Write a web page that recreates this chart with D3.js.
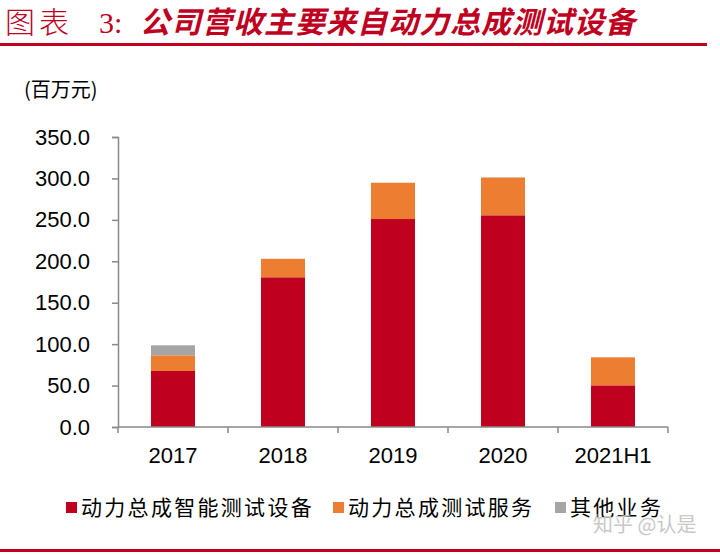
<!DOCTYPE html>
<html><head><meta charset="utf-8">
<script src="https://cdn.jsdelivr.net/npm/d3@7"></script>
<style>body{margin:0;background:#fff}</style>
</head><body><svg id="c" width="720" height="555"></svg>
<script>
const categories = ["2017","2018","2019","2020","2021H1"];
const seriesNames = ["动力总成智能测试设备","动力总成测试服务","其他业务"];
const equipment = [67.6, 180.7, 251.0, 255.5, 50.3];
const service = [18.9, 22.3, 43.8, 45.5, 33.8];
const other = [12.1, 0, 0, 0.4, 0];
const yTicks = [0,50,100,150,200,250,300,350];
const colors = ["#C0001F","#ED7D31","#A5A5A5"];

const svg = d3.select("#c");
const cjk = "'Noto Sans CJK SC', sans-serif";
const latin = "'Liberation Sans', Arial, sans-serif";

// header
const t0 = svg.append("text").attr("x",5).attr("y",33).attr("fill","#C0001F")
  .attr("font-family","'Liberation Serif','Noto Sans CJK SC', serif").attr("font-size",30)
  .attr("font-weight",300);
t0.append("tspan").attr("letter-spacing",4).text("图表");
t0.append("tspan").attr("x",99).text("3:");
svg.append("text").attr("x",140).attr("y",33).attr("fill","#C0001F")
  .attr("font-family",cjk).attr("font-size",30).attr("font-weight","bold").attr("font-style","italic")
  .attr("letter-spacing",1).text("公司营收主要来自动力总成测试设备");
svg.append("rect").attr("x",0).attr("y",43).attr("width",707).attr("height",3).attr("fill","#C0001F");
svg.append("rect").attr("x",0).attr("y",549).attr("width",720).attr("height",3).attr("fill","#C0001F");

const x = d3.scaleBand().domain(categories).range([118,668]).paddingInner(0.6).paddingOuter(0.3);
const y = d3.scaleLinear().domain([0,350]).range([427,137]);

const data = categories.map((c,i)=>({cat:c, s0:equipment[i], s1:service[i], s2:other[i]}));
const stack = d3.stack().keys(["s0","s1","s2"])(data);

svg.append("g").selectAll("g").data(stack).join("g").attr("fill",(d,i)=>colors[i])
  .selectAll("rect").data(d=>d).join("rect")
  .attr("x",d=>x(d.data.cat)).attr("width",x.bandwidth())
  .attr("y",d=>y(d[1])).attr("height",d=>y(d[0])-y(d[1]));

// axes
const yAxis = svg.append("g").attr("transform","translate(118,0)")
  .call(d3.axisLeft(y).tickValues(yTicks).tickFormat(d3.format(".1f")).tickSize(6).tickPadding(22));
const xb = d3.scaleBand().domain(categories).range([118,668]);
const xAxis = svg.append("g").attr("transform","translate(0,427)")
  .call(d3.axisBottom(xb).tickSize(0).tickPadding(20));
// boundary ticks
svg.append("g").selectAll("line").data(d3.range(categories.length+1)).join("line")
  .attr("x1",i=>118+i*xb.step()).attr("x2",i=>118+i*xb.step())
  .attr("y1",427).attr("y2",433).attr("stroke","#898989").attr("stroke-width",1.5);
[yAxis,xAxis].forEach(a=>{
  a.selectAll("path,line").attr("stroke","#898989").attr("stroke-width",1.5);
  a.selectAll("text").attr("font-family",latin).attr("font-size",22).attr("fill","#000");
});
xAxis.select(".domain").attr("d","M118,0H668");

svg.append("text").attr("x",24).attr("y",97).attr("font-family",cjk).attr("font-size",20)
  .attr("fill","#000").text("(百万元)");

// legend
const legX = [66, 333, 555];
seriesNames.forEach((n,i)=>{
  svg.append("rect").attr("x",legX[i]).attr("y",502).attr("width",11).attr("height",11).attr("fill",colors[i]);
  svg.append("text").attr("x",legX[i]+15).attr("y",515).attr("font-family",cjk).attr("font-size",21)
    .attr("letter-spacing",2.3).attr("fill","#000").text(n);
});
svg.append("text").attr("x",593).attr("y",532).attr("font-family",cjk).attr("font-size",20)
  .attr("fill","#c8c8c8").text("知乎 @认是");
</script></body></html>
